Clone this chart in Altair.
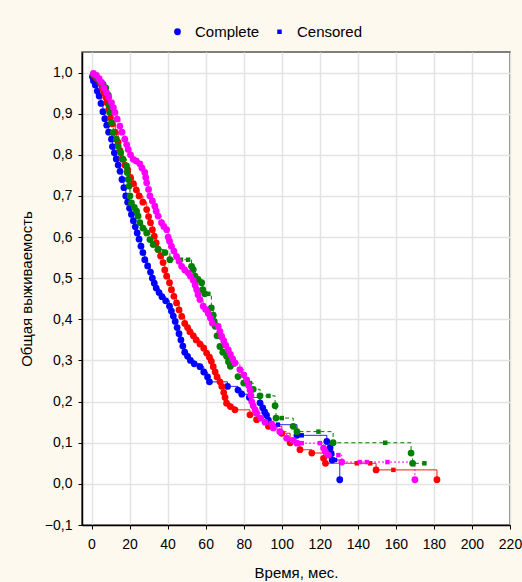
import altair as alt
import pandas as pd

# ---------------- data ----------------
group_names = ["Группа 1", "Группа 2", "Группа 3", "Группа 4"]
group_colors = ["#0000ff", "#ff0000", "#008000", "#ff00ff"]

blue_time = [0.5, 1, 2, 3, 4, 5, 6, 7, 8, 9, 10.5, 11, 12, 13, 14, 15, 16, 17, 18, 19,
             20, 21, 22, 23, 24, 25, 26, 27, 28, 29.5, 31, 32, 33, 34, 35.5, 37, 39, 41, 42, 43,
             44, 45, 46, 47, 48, 49, 50.5, 52, 54, 57, 59, 61, 62, 71.5, 77, 79, 83, 88.6, 90, 91,
             92, 93, 94, 108, 123.7, 125.4, 126, 126.5, 130.5]
blue_surv = [0.99, 0.98, 0.97, 0.955, 0.943, 0.925, 0.905, 0.888, 0.872, 0.855, 0.838, 0.82, 0.805, 0.79, 0.775, 0.76, 0.74, 0.72, 0.70, 0.685,
             0.67, 0.655, 0.64, 0.625, 0.61, 0.595, 0.578, 0.562, 0.545, 0.53, 0.515, 0.50, 0.488, 0.476, 0.465, 0.455, 0.445, 0.432, 0.42, 0.408,
             0.395, 0.38, 0.365, 0.35, 0.335, 0.32, 0.31, 0.30, 0.292, 0.285, 0.272, 0.26, 0.248, 0.237, 0.228, 0.218, 0.21, 0.197, 0.185, 0.175,
             0.167, 0.155, 0.144, 0.118, 0.103, 0.088, 0.074, 0.058, 0.01]
blue_cens_time = [98, 110.5, 128]
blue_cens_surv = [0.144, 0.118, 0.058]

red_time = [1, 2, 3, 4.4, 5.5, 6.5, 7.5, 8, 9, 10, 11, 12.5, 14, 15, 16, 17.5, 19, 20.5, 22, 23.5,
            25, 27, 29, 30, 31, 32, 33, 34, 35, 36.3, 37.6, 38.5, 39.5, 41, 42, 43.3, 44.7, 46, 47.4, 49,
            50.5, 51.7, 53.5, 55, 57, 59, 60.5, 62, 63, 64, 65, 66, 67.5, 68.5, 69.5, 70.2, 71, 73, 75.4, 83.3,
            86.8, 93, 100, 104.4, 109.6, 115.8, 122, 123, 149.6, 181.6]
red_surv = [0.995, 0.99, 0.985, 0.975, 0.963, 0.951, 0.94, 0.927, 0.91, 0.89, 0.875, 0.855, 0.83, 0.81, 0.79, 0.775, 0.764, 0.745, 0.73, 0.715,
            0.70, 0.685, 0.667, 0.65, 0.635, 0.618, 0.602, 0.586, 0.57, 0.554, 0.538, 0.52, 0.505, 0.489, 0.472, 0.456, 0.44, 0.423, 0.407, 0.39,
            0.38, 0.37, 0.36, 0.35, 0.34, 0.33, 0.318, 0.308, 0.298, 0.285, 0.272, 0.26, 0.248, 0.237, 0.222, 0.21, 0.196, 0.188, 0.18, 0.168,
            0.156, 0.14, 0.123, 0.1, 0.083, 0.075, 0.062, 0.05, 0.034, 0.01]
red_cens_time = [139.5, 146.5, 158.7]
red_cens_surv = [0.05, 0.05, 0.034]

green_time = [1, 2.5, 4, 6.1, 7.5, 8.8, 9.2, 9.6, 10.5, 11.4, 13.1, 14, 15.3, 16.6, 18.4, 18.8, 19.3, 19.8, 20.2, 21,
              22.5, 23.7, 24.5, 25.4, 27, 29, 30.7, 32.4, 35, 38.6, 41.2, 52.6, 53.5, 54.4, 56, 57.9, 58.5, 59.5, 63, 64,
              64.5, 65, 66, 67.5, 69, 71, 72, 73, 77, 80, 85, 88.6, 96.5, 97, 106, 108, 127, 168, 168.8]
green_surv = [0.995, 0.99, 0.98, 0.971, 0.963, 0.945, 0.92, 0.903, 0.878, 0.854, 0.838, 0.821, 0.805, 0.789, 0.773, 0.757, 0.74, 0.724, 0.70, 0.683,
              0.672, 0.663, 0.651, 0.635, 0.622, 0.61, 0.594, 0.582, 0.57, 0.562, 0.545, 0.529, 0.521, 0.505, 0.497, 0.489, 0.472, 0.462, 0.428, 0.41,
              0.395, 0.383, 0.36, 0.334, 0.32, 0.31, 0.297, 0.286, 0.261, 0.245, 0.23, 0.214, 0.19, 0.16, 0.14, 0.127, 0.1, 0.075, 0.05]
green_cens_time = [47, 50.8, 61.4, 83.3, 93, 100, 119.3, 154.4, 175]
green_cens_surv = [0.545, 0.545, 0.462, 0.245, 0.214, 0.16, 0.127, 0.1, 0.05]

mag_time = [1, 2.6, 4, 5.3, 6.5, 7.9, 9, 10.5, 11.5, 12.3, 13.5, 14.9, 16, 17.5, 18.5, 19.3, 20.5, 21.9, 23.5, 25.4,
            26.5, 28, 28.5, 29, 30, 30.7, 32, 33.3, 34, 35, 36.8, 38, 39.5, 40.3, 41, 42, 43.3, 44.7, 46, 47.4,
            49, 50.8, 52, 53.5, 54.5, 55.3, 56, 57, 58.7, 60, 61.4, 62.5, 63.5, 66.6, 67.5, 68.4, 69.5, 70.5, 71.9, 73,
            74.2, 75.4, 78, 80, 81.6, 82.5, 83.3, 83.8, 84.2, 85, 86, 86.8, 89, 91.2, 94.7, 95.6, 99, 102.6, 106, 108,
            122, 122.8, 124.5, 131.6, 170]
mag_surv = [0.998, 0.993, 0.985, 0.976, 0.963, 0.951, 0.94, 0.927, 0.915, 0.903, 0.887, 0.87, 0.855, 0.838, 0.825, 0.813, 0.80, 0.789, 0.785, 0.778,
            0.768, 0.757, 0.745, 0.732, 0.716, 0.70, 0.688, 0.675, 0.663, 0.651, 0.635, 0.626, 0.618, 0.60, 0.59, 0.578, 0.566, 0.553, 0.541, 0.529,
            0.52, 0.513, 0.505, 0.495, 0.483, 0.472, 0.46, 0.448, 0.432, 0.424, 0.414, 0.403, 0.391, 0.383, 0.371, 0.359, 0.348, 0.337, 0.326, 0.315,
            0.304, 0.294, 0.278, 0.265, 0.253, 0.24, 0.228, 0.215, 0.20, 0.19, 0.18, 0.172, 0.16, 0.15, 0.146, 0.136, 0.127, 0.111, 0.106, 0.099,
            0.087, 0.079, 0.07, 0.053, 0.01]
mag_cens_time = [110.5, 120, 129.8, 141, 144.7, 155.6]
mag_cens_surv = [0.099, 0.099, 0.07, 0.053, 0.053, 0.053]

x_ticks = [0, 20, 40, 60, 80, 100, 120, 140, 160, 180, 200, 220]
y_ticks = [-0.1, 0.0, 0.1, 0.2, 0.3, 0.4, 0.5, 0.6, 0.7, 0.8, 0.9, 1.0]
status_names = ["Complete", "Censored"]

# ---------------- build tables ----------------
series = [
    (group_names[0], blue_time, blue_surv, blue_cens_time, blue_cens_surv),
    (group_names[1], red_time, red_surv, red_cens_time, red_cens_surv),
    (group_names[2], green_time, green_surv, green_cens_time, green_cens_surv),
    (group_names[3], mag_time, mag_surv, mag_cens_time, mag_cens_surv),
]
line_rows, pt_rows = [], []
for gi, (g, et, es, ct, cs) in enumerate(series):
    pts = [(t, s, status_names[0]) for t, s in zip(et, es)] + \
          [(t, s, status_names[1]) for t, s in zip(ct, cs)]
    pts.sort(key=lambda r: r[0])
    line_rows.append({"group": g, "t": 0.0, "s": 1.0, "idx": 0})
    for i, (t, s, st) in enumerate(pts):
        line_rows.append({"group": g, "t": t, "s": s, "idx": i + 1})
        pt_rows.append({"group": g, "t": t, "s": s, "status": st, "gi": gi})
line_df = pd.DataFrame(line_rows)
pt_df = pd.DataFrame(pt_rows).sort_values(["gi", "t"]).reset_index(drop=True)

FONT = "Liberation Sans"
x_scale = alt.Scale(domain=[-5, 220], nice=False, zero=False)
y_scale = alt.Scale(domain=[-0.1, 1.05], nice=False, zero=False)
color_scale = alt.Scale(domain=group_names, range=group_colors)
dash_scale = alt.Scale(domain=group_names, range=[[1, 0], [1, 0], [4, 3], [2, 2]])

x_axis = alt.Axis(values=x_ticks, title="Время, мес.", format="d", titlePadding=14,
                  labelOverlap=False, labelFlush=False, labelPadding=8)
y_axis = alt.Axis(values=y_ticks, title="Общая выживаемость", labelOverlap=False,
                  labelExpr="replace(format(datum.value, '.1f'), '.', ',')", titlePadding=10,
                  labelPadding=6)

lines = alt.Chart(line_df).mark_line(interpolate="step-after", strokeWidth=1).encode(
    x=alt.X("t:Q", scale=x_scale, axis=x_axis),
    y=alt.Y("s:Q", scale=y_scale, axis=y_axis),
    color=alt.Color("group:N", scale=color_scale, legend=None),
    strokeDash=alt.StrokeDash("group:N", scale=dash_scale, legend=None),
    order=alt.Order("idx:Q"),
)

legend_kw = dict(orient="none", legendX=88, legendY=-28, direction="horizontal", title=None,
                 labelFont=FONT, labelFontSize=15, labelColor="black",
                 symbolFillColor="#0000ff", symbolStrokeColor="#0000ff", symbolStrokeWidth=0,
                 labelOffset=10, columnPadding=12)

points = alt.Chart(pt_df).mark_point(filled=True, opacity=1, strokeWidth=0).encode(
    x=alt.X("t:Q", scale=x_scale, axis=x_axis),
    y=alt.Y("s:Q", scale=y_scale, axis=y_axis),
    color=alt.Color("group:N", scale=color_scale, legend=None),
    shape=alt.Shape("status:N", scale=alt.Scale(domain=status_names, range=["circle", "square"]),
                    legend=alt.Legend(**legend_kw)),
    size=alt.Size("status:N", scale=alt.Scale(domain=status_names, range=[46, 20]),
                  legend=alt.Legend(**legend_kw)),
)

chart = alt.layer(lines, points).properties(
    width=428, height=473,
    autosize=alt.AutoSizeParams(type="none"),
    padding={"left": 82, "top": 52, "right": 12, "bottom": 57},
    background="#fdf9ef",
).configure_view(
    fill="white", stroke="#555555", strokeWidth=1.5
).configure_axis(
    labelFont=FONT, labelFontSize=14, labelColor="black",
    titleFont=FONT, titleFontSize=15, titleFontWeight="normal", titleColor="black",
    domainColor="black", domainWidth=1.5, tickColor="black", tickSize=4,
    gridColor="#e3e3e3", gridWidth=1.5,
)

chart.save("out.html", embed_options={"renderer": "svg", "actions": False})
